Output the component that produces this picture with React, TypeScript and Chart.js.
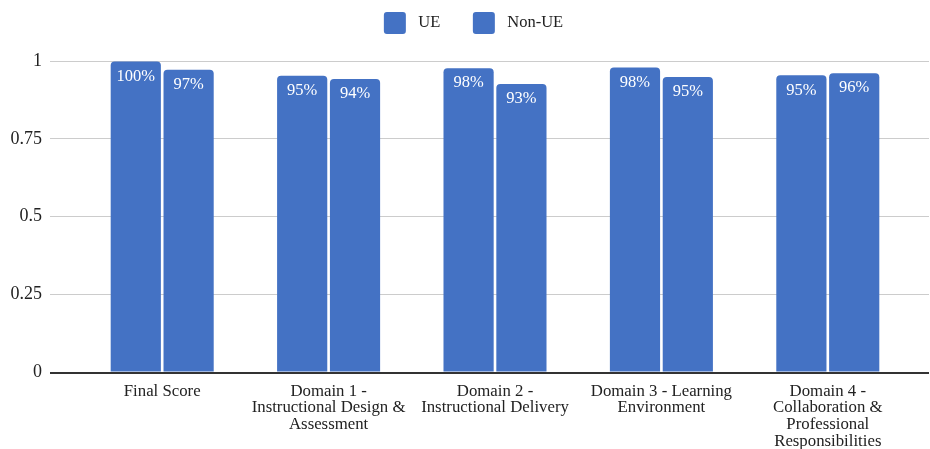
import React, { useEffect, useRef } from "react";
import { Chart, registerables } from "chart.js";

Chart.register(...registerables);

const categories: string[][] = [
  ["Final Score"],
  ["Domain 1 -", "Instructional Design &", "Assessment"],
  ["Domain 2 -", "Instructional Delivery"],
  ["Domain 3 - Learning", "Environment"],
  ["Domain 4 -", "Collaboration &", "Professional", "Responsibilities"],
];
const seriesNames = ["UE", "Non-UE"];
const ueValues = [0.998, 0.953, 0.977, 0.979, 0.954];
const nonUeValues = [0.972, 0.942, 0.926, 0.949, 0.961];
const yTickValues = [0, 0.25, 0.5, 0.75, 1];
const yTickLabels = ["0", "0.25", "0.5", "0.75", "1"];

const BAR_COLOR = "#4472C4";
const FONT = "'Liberation Serif', 'Times New Roman', serif";

const align = (p: number, w: number) => Math.round(p - w / 2) + w / 2;

const extendGrid = {
  id: "extendGrid",
  beforeInit(chart: any) {
    const legend = chart.legend;
    if (legend) {
      const origFit = legend.fit;
      legend.fit = function () {
        origFit.call(this);
        this.height += 17;
      };
      const origDraw = legend.draw;
      legend.draw = function () {
        const ctx = this.ctx;
        ctx.save();
        ctx.translate(13, 0);
        origDraw.call(this);
        ctx.restore();
      };
    }
  },
  beforeDatasetsDraw(chart: any) {
    const { ctx, chartArea, scales } = chart;
    const y = scales.y;
    ctx.save();
    yTickValues.forEach((v) => {
      const w = v === 0 ? 2 : 1;
      const py = align(y.getPixelForValue(v), w);
      ctx.beginPath();
      ctx.strokeStyle = v === 0 ? "#333333" : "#cccccc";
      ctx.lineWidth = w;
      ctx.moveTo(chartArea.right, py);
      ctx.lineTo(chart.width - 1, py);
      ctx.stroke();
    });
    ctx.restore();
  },
  afterDatasetsDraw(chart: any) {
    const { ctx, chartArea, scales } = chart;
    const py = align(scales.y.getPixelForValue(0), 2);
    ctx.save();
    ctx.beginPath();
    ctx.strokeStyle = "#333333";
    ctx.lineWidth = 2;
    ctx.moveTo(chartArea.left - 29, py);
    ctx.lineTo(chart.width - 1, py);
    ctx.stroke();
    ctx.restore();
  },
};

const valueLabels = {
  id: "valueLabels",
  afterDatasetsDraw(chart: any) {
    const { ctx } = chart;
    ctx.save();
    ctx.fillStyle = "#ffffff";
    ctx.font = `16.5px ${FONT}`;
    ctx.textAlign = "center";
    ctx.textBaseline = "middle";
    chart.data.datasets.forEach((ds: any, i: number) => {
      const meta = chart.getDatasetMeta(i);
      meta.data.forEach((el: any, j: number) => {
        const v = ds.data[j] as number;
        ctx.fillText(`${Math.round(v * 100)}%`, el.x, el.y + 15);
      });
    });
    ctx.restore();
  },
};

export default function App() {
  const ref = useRef<HTMLCanvasElement | null>(null);

  useEffect(() => {
    if (!ref.current) return;
    const chart = new Chart(ref.current, {
      type: "bar",
      data: {
        labels: categories,
        datasets: [
          {
            label: seriesNames[0],
            data: ueValues,
            backgroundColor: BAR_COLOR,
            borderRadius: 4,
            borderSkipped: "start",
            categoryPercentage: 0.635,
            barPercentage: 0.95,
          },
          {
            label: seriesNames[1],
            data: nonUeValues,
            backgroundColor: BAR_COLOR,
            borderRadius: 4,
            borderSkipped: "start",
            categoryPercentage: 0.635,
            barPercentage: 0.95,
          },
        ],
      },
      options: {
        responsive: false,
        animation: false,
        devicePixelRatio: 1,
        layout: { padding: { left: 10, right: 19, top: 0, bottom: 0 } },
        plugins: {
          tooltip: { enabled: false },
          legend: {
            position: "top",
            labels: {
              boxWidth: 22,
              boxHeight: 22,
              useBorderRadius: true,
              borderRadius: 3,
              padding: 12,
              color: "#222222",
              font: { family: FONT, size: 16.5 },
              generateLabels: (chart: any) => {
                const items = Chart.defaults.plugins.legend.labels.generateLabels(chart);
                return items.map((it: any, i: number) => ({
                  ...it,
                  text: i < items.length - 1 ? ` ${it.text}     ` : ` ${it.text}`,
                }));
              },
            },
          },
        },
        scales: {
          x: {
            afterFit: (scale: any) => {
              scale.height = 76.5;
            },
            grid: { display: false },
            border: { display: false },
            ticks: {
              color: "#222222",
              padding: 2.5,
              maxRotation: 0,
              autoSkip: false,
              font: { family: FONT, size: 16.8, lineHeight: 0.995 },
            },
          },
          y: {
            min: 0,
            max: 1,
            afterFit: (scale: any) => {
              scale.width = 69;
            },
            afterBuildTicks: (scale: any) => {
              scale.ticks = yTickValues.map((v) => ({ value: v }));
            },
            border: { display: false },
            grid: {
              color: (c: any) => (c.tick && c.tick.value === 0 ? "#333333" : "#cccccc"),
              lineWidth: (c: any) => (c.tick && c.tick.value === 0 ? 2 : 1),
              drawTicks: true,
              tickLength: 29,
            },
            ticks: {
              color: "#222222",
              padding: 8,
              font: { family: FONT, size: 18 },
              callback: (value: any) => {
                const idx = yTickValues.indexOf(Number(value));
                return idx >= 0 ? yTickLabels[idx] : "";
              },
            },
          },
        },
      },
      plugins: [extendGrid, valueLabels],
    });
    return () => chart.destroy();
  }, []);

  return (
    <div style={{ position: "absolute", left: 0, top: 0, width: 930, height: 449, background: "#ffffff" }}>
      <canvas ref={ref} width={930} height={449} />
    </div>
  );
}
